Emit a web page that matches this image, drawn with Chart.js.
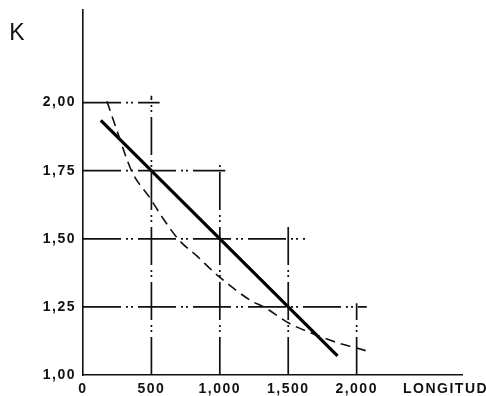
<!DOCTYPE html>
<html>
<head>
<meta charset="utf-8">
<script src="https://cdn.jsdelivr.net/npm/chart.js@4/dist/chart.umd.min.js"></script>
<style>
  html, body { margin: 0; padding: 0; background: #fff; }
  #wrap { width: 486px; height: 396px; }
</style>
</head>
<body>
<div id="wrap"><canvas id="c" width="486" height="396"></canvas></div>
<script>
// ---- data ----
const xTicks = [0, 500, 1000, 1500, 2000, 2650];
const xTickLabels = ["0", "500", "1,000", "1,500", "2,000", "LONGITUD"];
const yTicks = [1.00, 1.25, 1.50, 1.75, 2.00];
const yTickLabels = ["1,00", "1,25", "1,50", "1,75", "2,00"];

// solid straight line
const solidX = [130, 1860];
const solidK = [1.935, 1.07];

// dashed curve
const curveX = [175, 260, 357, 488, 582, 706, 830, 983, 1237, 1325, 1507, 1652, 1870, 2001, 2103];
const curveK = [2.005, 1.88, 1.747, 1.651, 1.577, 1.493, 1.438, 1.366, 1.27, 1.249, 1.19, 1.157, 1.117, 1.099, 1.084];

// dash-dot reference lines (staircase)
const refK = [2.00, 1.75, 1.50, 1.25];
const refKEndX = [560, 1040, 1623, 2074];
const refX = [500, 1000, 1500, 2000];
const refXTopK = [2.025, 1.78, 1.555, 1.263];

// ---- build datasets ----
const refDash = [38, 5, 2, 3, 2, 5];
const datasets = [];
refK.forEach((k, i) => {
  datasets.push({ data: [{x: 0, y: k}, {x: refKEndX[i], y: k}], borderColor: '#111', borderWidth: 1.7, borderDash: refDash, pointRadius: 0 });
});
refX.forEach((x, i) => {
  datasets.push({ data: [{x: x, y: 1.0}, {x: x, y: refXTopK[i]}], borderColor: '#111', borderWidth: 1.7, borderDash: refDash, pointRadius: 0 });
});
datasets.push({
  data: curveX.map((x, i) => ({x: x, y: curveK[i]})),
  borderColor: '#111', borderWidth: 1.6, borderDash: [10, 6], pointRadius: 0,
  cubicInterpolationMode: 'monotone'
});
datasets.push({
  data: solidX.map((x, i) => ({x: x, y: solidK[i]})),
  borderColor: '#000', borderWidth: 3.2, pointRadius: 0
});

const tickFont = { family: "'Liberation Sans', Arial, sans-serif", size: 14, weight: 'bold' };

const kLabel = {
  id: 'kLabel',
  beforeDraw(chart) {
    chart.ctx.letterSpacing = '1.5px';
  },
  afterDraw(chart) {
    const ctx = chart.ctx;
    ctx.save();
    ctx.letterSpacing = '0px';
    ctx.fillStyle = '#111';
    ctx.font = "23px 'Liberation Sans', Arial, sans-serif";
    ctx.textAlign = 'center';
    ctx.textBaseline = 'middle';
    ctx.fillText('K', 17, 34);
    ctx.restore();
  }
};

new Chart(document.getElementById('c'), {
  type: 'scatter',
  data: { datasets },
  plugins: [kLabel],
  options: {
    responsive: false,
    devicePixelRatio: 1,
    animation: false,
    showLine: true,
    layout: { padding: { top: 10, right: 24, left: 0, bottom: 0 } },
    plugins: { legend: { display: false }, tooltip: { enabled: false } },
    scales: {
      x: {
        type: 'linear', min: 0, max: 2770,
        grid: { display: false, drawTicks: false },
        border: { display: true, color: '#111', width: 1.6 },
        afterBuildTicks: (s) => { s.ticks = xTicks.map(v => ({ value: v })); },
        afterFit: (s) => { s.height = 21; s.paddingLeft = 0; s.paddingRight = 0; },
        ticks: {
          autoSkip: false, maxRotation: 0, padding: 6, color: '#111', font: tickFont,
          callback: (v) => { const i = xTicks.indexOf(v); return i >= 0 ? xTickLabels[i] : ''; }
        }
      },
      y: {
        type: 'linear', min: 1, max: 2.34,
        grid: { display: false, drawTicks: false },
        border: { display: true, color: '#111', width: 1.6 },
        afterBuildTicks: (s) => { s.ticks = yTicks.map(v => ({ value: v })); },
        afterFit: (s) => { s.width = 83; s.paddingTop = 0; s.paddingBottom = 0; },
        ticks: {
          autoSkip: false, padding: 7, color: '#111', font: tickFont,
          callback: (v) => { const i = yTicks.findIndex(t => Math.abs(t - v) < 1e-6); return i >= 0 ? yTickLabels[i] : ''; }
        }
      }
    }
  }
});
</script>
</body>
</html>
